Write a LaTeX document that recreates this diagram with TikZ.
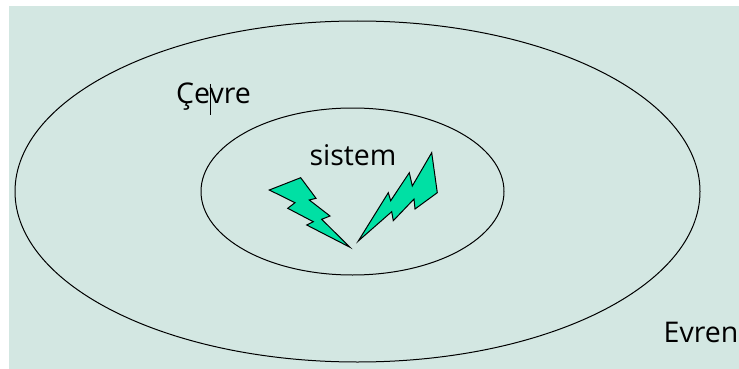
\documentclass[tikz,border=0pt]{standalone}
\usepackage{fontspec}
\setmainfont{Open Sans}
\usetikzlibrary{positioning}
\definecolor{backcol}{RGB}{211,231,226}
\definecolor{boltcol}{RGB}{0,224,164}
\tikzset{
    ring/.style={draw=black, line width=1pt},
    bolt/.style={draw=black, fill=boltcol, line width=1pt, line join=miter},
    label/.style={font=\fontsize{28.5}{32}\selectfont, text=black, inner sep=0pt}
}
\begin{document}
\begin{tikzpicture}[x=1pt, y=-1pt]
    \useasboundingbox (0,0) rectangle (739,369);
    % Background panel
    \fill[backcol] (9,6) rectangle (739,369);

    % Universe and system
    \draw[ring] (357.5,191.5) ellipse [x radius=342.5, y radius=170.5];
    \draw[ring] (352.5,191.5) ellipse [x radius=151.5, y radius=83.5];

    % Left bolt
    \draw[bolt] (269.3,190) -- (300.7,177.7) -- (316,198.3) -- (309.3,200) -- (330,216)
        -- (321.7,219.3) -- (350,247.3) -- (306.7,225) -- (313.3,221.7) -- (287.7,208.3)
        -- (295,202.7) -- cycle;

    % Right bolt
    \draw[bolt] (358.3,241) -- (388.3,192.7) -- (390.7,200.7) -- (409.3,172.7) -- (412.3,186)
        -- (431.7,152.7) -- (437.3,192.7) -- (415,209) -- (414,199) -- (393.3,220.7)
        -- (391.7,211.7) -- cycle;

    % Labels
    \node[label] (cevre) at (213.5,97) {Çevre};
    \node[label] (sistem) at (353,155) {sistem};
    \node[label] (evren) at (701,332) {Evren};

    % Text cursor
    \draw[black, line width=0.8pt] (210,84) -- (210,115);
\end{tikzpicture}
\end{document}
